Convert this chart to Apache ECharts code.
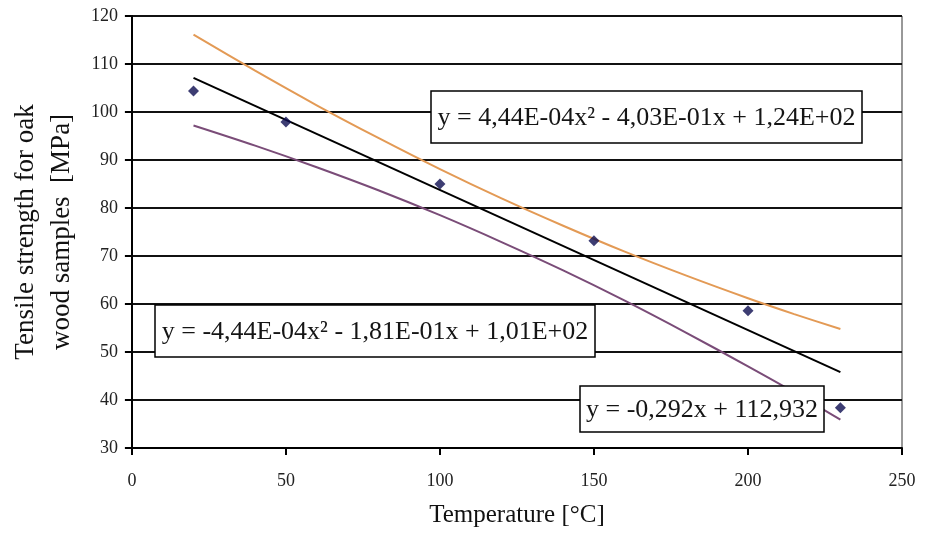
<!DOCTYPE html>
<html>
<head>
<meta charset="utf-8">
<script src="https://cdn.jsdelivr.net/npm/echarts@6/dist/echarts.min.js"></script>
<style>
html,body{margin:0;padding:0;background:#fff;}
#chart{width:927px;height:536px;}
</style>
</head>
<body>
<div id="chart"></div>
<script>
// Measured data points (temperature °C, tensile strength MPa)
var temperatures = [20, 50, 100, 150, 200, 230];
var strengths = [104.4, 97.9, 85.0, 73.2, 58.6, 38.4];

// Trend curves
var trendX = [20, 40, 60, 80, 100, 120, 140, 160, 180, 200, 215, 230];
var upperCurve = [116.1, 108.6, 101.4, 94.6, 88.1, 82.0, 76.3, 70.9, 65.9, 61.2, 57.9, 54.8];
var lowerCurve = [97.2, 93.0, 88.5, 83.7, 78.5, 72.9, 67.0, 60.7, 54.0, 47.0, 41.6, 35.9];
var linearX = [20, 230];
var linearY = [107.1, 45.8];

// Axis ticks
var xTicks = [0, 50, 100, 150, 200, 250];
var yTicks = [30, 40, 50, 60, 70, 80, 90, 100, 110, 120];

// Equation texts
var eqUpper = 'y = 4,44E-04x² - 4,03E-01x + 1,24E+02';
var eqLower = 'y = -4,44E-04x² - 1,81E-01x + 1,01E+02';
var eqLinear = 'y = -0,292x + 112,932';

var xTitle = 'Temperature [°C]';
var yTitle = 'Tensile strength for oak\nwood samples  [MPa]';

function pairs(xs, ys) { return xs.map(function (x, i) { return [x, ys[i]]; }); }

var FONT = '"Liberation Serif", "Times New Roman", serif';

function eqBox(x, y, w, h, text) {
  return {
    type: 'group', z: 100,
    children: [
      { type: 'rect', z: 100, shape: { x: x, y: y, width: w, height: h },
        style: { fill: '#fff', stroke: '#000', lineWidth: 1.5 } },
      { type: 'text', z: 101, x: x + w / 2, y: y + h / 2 + 1,
        style: { text: text, font: '26px ' + FONT, fill: '#151515', align: 'center', verticalAlign: 'middle' } }
    ]
  };
}

var chart = echarts.init(document.getElementById('chart'));
chart.setOption({
  animation: false,
  backgroundColor: '#fff',
  grid: { left: 131, right: 25, top: 16, bottom: 88, show: true, borderColor: '#333', borderWidth: 1, backgroundColor: 'transparent' },
  xAxis: {
    type: 'value', min: xTicks[0], max: xTicks[xTicks.length - 1], interval: 50,
    name: xTitle, nameLocation: 'middle', nameGap: 55,
    nameTextStyle: { fontFamily: FONT, fontSize: 25, color: '#111' },
    axisLine: { show: true, onZero: false, lineStyle: { color: '#000', width: 2 } },
    axisTick: { show: true, inside: false, length: 7, lineStyle: { color: '#000', width: 2 } },
    axisLabel: { fontFamily: FONT, fontSize: 18, color: '#222', margin: 24 },
    splitLine: { show: false }
  },
  yAxis: {
    type: 'value', min: yTicks[0], max: yTicks[yTicks.length - 1], interval: 10,
    name: yTitle, nameLocation: 'middle', nameGap: 48, nameRotate: 90,
    nameTextStyle: { fontFamily: FONT, fontSize: 27, color: '#111', lineHeight: 36, align: 'center' },
    axisLine: { show: true, lineStyle: { color: '#000', width: 2 } },
    axisTick: { show: true, inside: false, length: 7, lineStyle: { color: '#000', width: 2 } },
    axisLabel: { fontFamily: FONT, fontSize: 18, color: '#222', margin: 14 },
    splitLine: { show: true, lineStyle: { color: '#111', width: 2 } }
  },
  series: [
    { type: 'line', data: pairs(trendX, upperCurve), smooth: 0.3, showSymbol: false,
      lineStyle: { color: '#E39A55', width: 2 }, z: 3 },
    { type: 'line', data: pairs(trendX, lowerCurve), smooth: 0.3, showSymbol: false,
      lineStyle: { color: '#7A4C78', width: 2 }, z: 3 },
    { type: 'line', data: pairs(linearX, linearY), showSymbol: false,
      lineStyle: { color: '#000', width: 2 }, z: 4 },
    { type: 'scatter', data: pairs(temperatures, strengths), symbol: 'diamond', symbolSize: 11,
      itemStyle: { color: '#0C0C50' }, z: 5 }
  ],
  graphic: [
    eqBox(431, 91, 431, 52, eqUpper),
    eqBox(155, 305, 440, 52, eqLower),
    eqBox(580, 386, 244, 46, eqLinear)
  ]
});
</script>
</body>
</html>
